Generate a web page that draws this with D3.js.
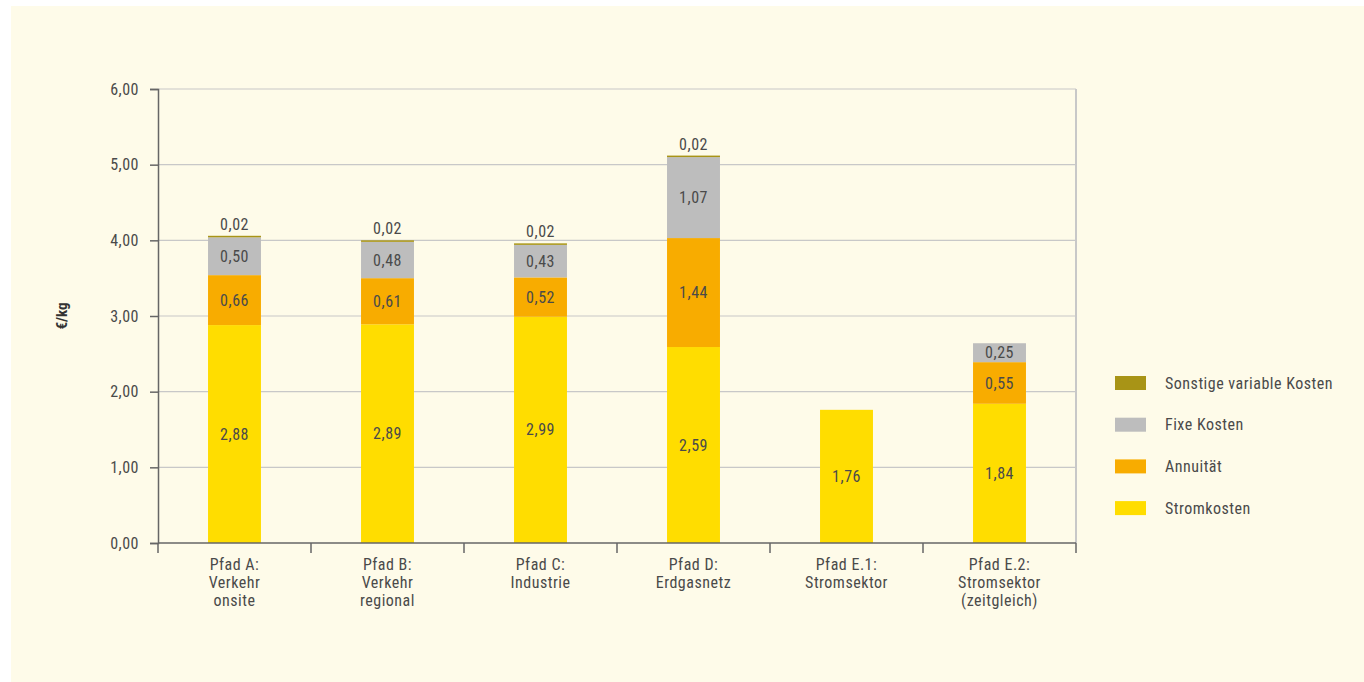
<!DOCTYPE html>
<html>
<head>
<meta charset="utf-8">
<script src="https://cdn.jsdelivr.net/npm/d3@7"></script>
<style>
  html, body { margin: 0; padding: 0; background: #ffffff; }
  svg { display: block; }
  text { font-family: "Roboto Condensed", "Liberation Sans Narrow", Roboto, "Noto Sans", sans-serif; }
</style>
</head>
<body>
<svg id="chart" width="1364" height="682"></svg>
<script>
const categories = [
  ["Pfad A:", "Verkehr", "onsite"],
  ["Pfad B:", "Verkehr", "regional"],
  ["Pfad C:", "Industrie"],
  ["Pfad D:", "Erdgasnetz"],
  ["Pfad E.1:", "Stromsektor"],
  ["Pfad E.2:", "Stromsektor", "(zeitgleich)"]
];
const seriesNames = ["Stromkosten", "Annuität", "Fixe Kosten", "Sonstige variable Kosten"];
const stromkosten = [2.88, 2.89, 2.99, 2.59, 1.76, 1.84];
const annuitaet   = [0.66, 0.61, 0.52, 1.44, 0, 0.55];
const fixeKosten  = [0.50, 0.48, 0.43, 1.07, 0, 0.25];
const sonstige    = [0.02, 0.02, 0.02, 0.02, 0, 0];
const yTicks = [0, 1, 2, 3, 4, 5, 6];
const colors = ["#FFDD00", "#F8AC00", "#BDBDBD", "#A89416"];

(function () {
const svg = d3.select("#chart");
const W = 1364, H = 682;
const FS = 16, LS = "0.5px";
svg.append("rect").attr("x", 11).attr("y", 6).attr("width", W - 11).attr("height", H - 6).attr("fill", "#FEFBE9");

const pL = 158, pR = 1076, pT = 89, pB = 543;
const catKeys = categories.map(c => c.join(" "));
const x = d3.scaleBand().domain(catKeys).range([pL, pR]).padding(0);
const y = d3.scaleLinear().domain([0, 6]).range([pB, pT]);
const barW = x.bandwidth() * 0.346;

const fmt = v => d3.format(".2f")(v).replace(".", ",");
const textColor = "#4A4A4A";

// gridlines
svg.append("g").selectAll("line").data(yTicks.filter(t => t > 0)).join("line")
  .attr("x1", pL).attr("x2", pR)
  .attr("y1", d => y(d)).attr("y2", d => y(d))
  .attr("stroke", "#C8C8C8").attr("stroke-width", 1.2);

// right border
svg.append("line").attr("x1", pR).attr("x2", pR).attr("y1", pT).attr("y2", pB)
  .attr("stroke", "#C8C8C8").attr("stroke-width", 2);

// stacked data
const table = categories.map((c, i) => ({
  key: catKeys[i],
  "Stromkosten": stromkosten[i],
  "Annuität": annuitaet[i],
  "Fixe Kosten": fixeKosten[i],
  "Sonstige variable Kosten": sonstige[i]
}));
const stack = d3.stack().keys(seriesNames)(table);

const gBars = svg.append("g");
stack.forEach((s, si) => {
  gBars.append("g").attr("fill", colors[si]).selectAll("rect")
    .data(s.filter(d => d[1] - d[0] > 0)).join("rect")
    .attr("x", d => x(d.data.key) + (x.bandwidth() - barW) / 2)
    .attr("width", barW)
    .attr("y", d => y(d[1]))
    .attr("height", d => y(d[0]) - y(d[1]));
});

function styleText(sel) {
  return sel.attr("font-size", FS).attr("fill", textColor).attr("font-weight", 400)
    .style("letter-spacing", LS);
}

// value labels
stack.forEach((s, si) => {
  const last = si === 3;
  svg.append("g").selectAll("text")
    .data(s.filter(d => d[1] - d[0] > 0)).join("text")
    .attr("x", d => x(d.data.key) + x.bandwidth() / 2)
    .attr("y", d => last ? y(d[1]) - 6 : (y(d[0]) + y(d[1])) / 2)
    .attr("dy", last ? 0 : "0.35em")
    .attr("text-anchor", "middle")
    .call(styleText)
    .text(d => fmt(d[1] - d[0]));
});

// y axis
const yAxis = d3.axisLeft(y).tickValues(yTicks).tickSize(8).tickPadding(11).tickFormat(fmt);
const gy = svg.append("g").attr("transform", `translate(${pL},0)`).call(yAxis);
gy.select(".domain").attr("stroke", "#666").attr("stroke-width", 1.5);
gy.selectAll(".tick line").attr("stroke", "#666").attr("stroke-width", 1.5);
gy.selectAll(".tick text").call(styleText)
  .style("font-family", '"Roboto Condensed", "Liberation Sans Narrow", Roboto, sans-serif');

// x axis
svg.append("line").attr("x1", pL).attr("x2", pR).attr("y1", pB).attr("y2", pB)
  .attr("stroke", "#666").attr("stroke-width", 1.5);
const boundaries = catKeys.map(k => x(k)).concat([pR]);
svg.append("g").selectAll("line").data(boundaries).join("line")
  .attr("x1", d => d).attr("x2", d => d).attr("y1", pB).attr("y2", pB + 10)
  .attr("stroke", "#666").attr("stroke-width", 1.5);

const gx = svg.append("g");
categories.forEach((c, i) => {
  const cx = x(catKeys[i]) + x.bandwidth() / 2;
  const t = gx.append("text")
    .attr("x", cx)
    .attr("y", 570)
    .attr("text-anchor", "middle")
    .call(styleText);
  c.forEach((line, li) => {
    t.append("tspan").attr("x", cx).attr("dy", li === 0 ? 0 : 18).text(line);
  });
});

// y label
svg.append("text")
  .attr("transform", `translate(67,${(pT + pB) / 2}) rotate(-90)`)
  .attr("text-anchor", "middle")
  .attr("font-size", 15).attr("font-weight", "bold")
  .attr("fill", "#333")
  .text("€/kg");

// legend
const legendOrder = [3, 2, 1, 0];
const lg = svg.append("g");
legendOrder.forEach((si, k) => {
  const ly = 383 + k * 41.7;
  lg.append("rect").attr("x", 1115).attr("y", ly - 7).attr("width", 31).attr("height", 14).attr("fill", colors[si]);
  lg.append("text").attr("x", 1165).attr("y", ly).attr("dy", "0.35em")
    .call(styleText).text(seriesNames[si]);
});
})();
</script>
</body>
</html>
